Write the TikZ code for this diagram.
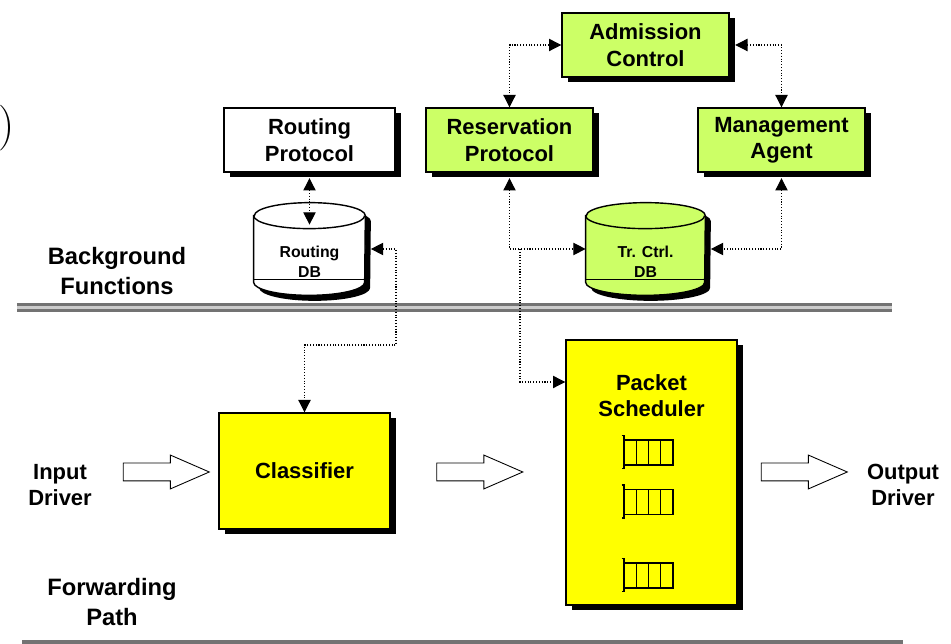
\documentclass[tikz,border=0pt]{standalone}
\usepackage{fontspec}
\setsansfont{Liberation Sans}
\usepackage{xcolor}
\usetikzlibrary{shapes,shapes.arrows,shadows,calc,arrows.meta,backgrounds}

\definecolor{limegreen}{RGB}{204,255,102}
\definecolor{boxyellow}{RGB}{255,255,0}

\tikzset{
  shade box/.style={drop shadow={shadow xshift=0.11cm,shadow yshift=-0.11cm,fill=black,opacity=1}},
  box/.style={draw,line width=0.8pt,align=center,inner sep=0pt,shade box,
    font=\sffamily\bfseries\fontsize{12.5}{15}\selectfont},
  gbox/.style={box,fill=limegreen,minimum width=3.34cm,minimum height=1.28cm},
  wbox/.style={box,fill=white,minimum width=3.42cm,minimum height=1.28cm},
  ybox/.style={box,fill=boxyellow,minimum width=3.42cm},
  dbframe/.style={rectangle,inner sep=1pt,align=center,minimum height=1.84cm,
    text height=33pt,text depth=0pt,
    font=\sffamily\bfseries\fontsize{9}{11.4}\selectfont},
  lbl/.style={align=center,font=\sffamily\bfseries\fontsize{12.5}{15}\selectfont},
  area/.style={align=center,font=\sffamily\bfseries\fontsize{13.5}{17}\selectfont},
  link/.style={densely dotted,line width=0.6pt},
  flow/.style={single arrow,draw,line width=0.5pt,fill=white,inner xsep=0pt,
    inner ysep=0.17cm,minimum height=1.72cm,single arrow head extend=0.16cm,
    single arrow tip angle=47},
  sep/.style={draw=black!55,line width=1.8pt,double=black!20,double distance=1.6pt}
}

% drum behind a db node: #1 node, #2 fill, #3 half width
\newcommand{\dbdrum}[3]{%
  \begin{scope}[on background layer]
    \coordinate (#1tl) at ($(#1.north west)+(0,-0.26)$);
    \coordinate (#1tr) at ($(#1.north east)+(0,-0.26)$);
    \coordinate (#1bl) at ($(#1.south west)+(0,0.26)$);
    \coordinate (#1br) at ($(#1.south east)+(0,0.26)$);
    \fill[black] ([shift={(0.11,-0.11)}]#1tl) -- ([shift={(0.11,-0.11)}]#1bl)
      arc[start angle=180,end angle=360,x radius=#3,y radius=0.26cm]
      -- ([shift={(0.11,-0.11)}]#1tr)
      arc[start angle=0,end angle=180,x radius=#3,y radius=0.26cm] -- cycle;
    \draw[line width=0.8pt,fill=#2] (#1tl) -- (#1bl)
      arc[start angle=180,end angle=360,x radius=#3,y radius=0.26cm]
      -- (#1tr)
      arc[start angle=0,end angle=180,x radius=#3,y radius=0.26cm] -- cycle;
    \draw[line width=0.8pt] (#1tl) arc[start angle=180,end angle=360,x radius=#3,y radius=0.26cm];
    \draw[line width=0.4pt] ($(#1bl)+(0,0.06)$) -- ($(#1br)+(0,0.06)$);
  \end{scope}}

\begin{document}
\begin{tikzpicture}[>={Triangle[length=7pt,width=7pt]}]
\useasboundingbox (0,0) rectangle (19.02,12.88);

% background functions
\node[gbox] (ac) at (12.91,11.98) {Admission\\Control};
\node[gbox] (rp) at (10.19,10.08) {Reservation\\Protocol};
\node[gbox] (ma) at (15.63,10.08) {Management\\Agent};
\node[wbox] (rtp) at (6.19,10.08) {Routing\\Protocol};
\node[dbframe,minimum width=2.22cm] (rdb) at (6.19,7.90) {Routing\\DB};
\node[dbframe,minimum width=2.38cm] (tdb) at (12.91,7.90) {Tr. Ctrl.\\DB};
\dbdrum{rdb}{white}{1.11cm}
\dbdrum{tdb}{limegreen}{1.19cm}

\node[area] (bgf) at (2.34,7.46) {Background\\Functions};
\node[font=\fontsize{26}{30}\selectfont] (paren) at (0.14,10.32) {)};

% forwarding path
\node[ybox,minimum height=2.32cm] (cls) at (6.09,3.46) {Classifier};
\node[ybox,minimum height=5.30cm,
  label={[lbl,anchor=north,yshift=-0.58cm]north:Packet\\Scheduler}] (ps) at (13.03,3.43) {};
\foreach \qy in {3.83,2.84,1.37}{
  \draw[line width=0.8pt] (12.48,\qy-0.25) rectangle (13.46,\qy+0.25);
  \foreach \qx in {12.725,12.97,13.215}
    \draw[line width=0.8pt] (\qx,\qy-0.25) -- (\qx,\qy+0.25);
  \draw[line width=0.8pt] (12.43,\qy+0.34) -- (12.48,\qy+0.34) -- (12.48,\qy-0.32) -- (12.43,\qy-0.32);
}

\node[lbl] (ind) at (1.20,3.18) {Input\\Driver};
\node[lbl] (outd) at (18.06,3.18) {Output\\Driver};
\node[flow] (in1) at (3.12,3.44) {};
\node[flow] (mid) at (9.39,3.44) {};
\node[flow] (out1) at (15.88,3.44) {};

\node[area] (fwd) at (2.24,0.84) {Forwarding\\Path};

% separators
\draw[sep] (0.34,6.73) -- (17.84,6.73);
\draw[sep] (0.44,-0.02) -- (18.06,-0.02);

% control links
\draw[link,<->] ($(rtp.south)+(0,-0.11)$) -- ($(rdb.north)+(0,-0.44)$);
\coordinate (bend) at (7.92,5.98);
\draw[link,<->] ($(rdb.east)+(0.11,0)$) -| (bend) -| (cls.north);
\draw[link,<->] (ac.west) -| (rp.north);
\draw[link,<->] ($(ac.east)+(0.11,0)$) -| (ma.north);
\draw[link,<->] ($(rp.south)+(0,-0.11)$) |- (tdb.west);
\draw[link,<->] ($(ma.south)+(0,-0.11)$) |- ($(tdb.east)+(0.11,0)$);
\coordinate (tap) at (10.40,7.90);
\draw[link,->] (tap) |- ([yshift=1.81cm]ps.west);

\end{tikzpicture}
\end{document}
